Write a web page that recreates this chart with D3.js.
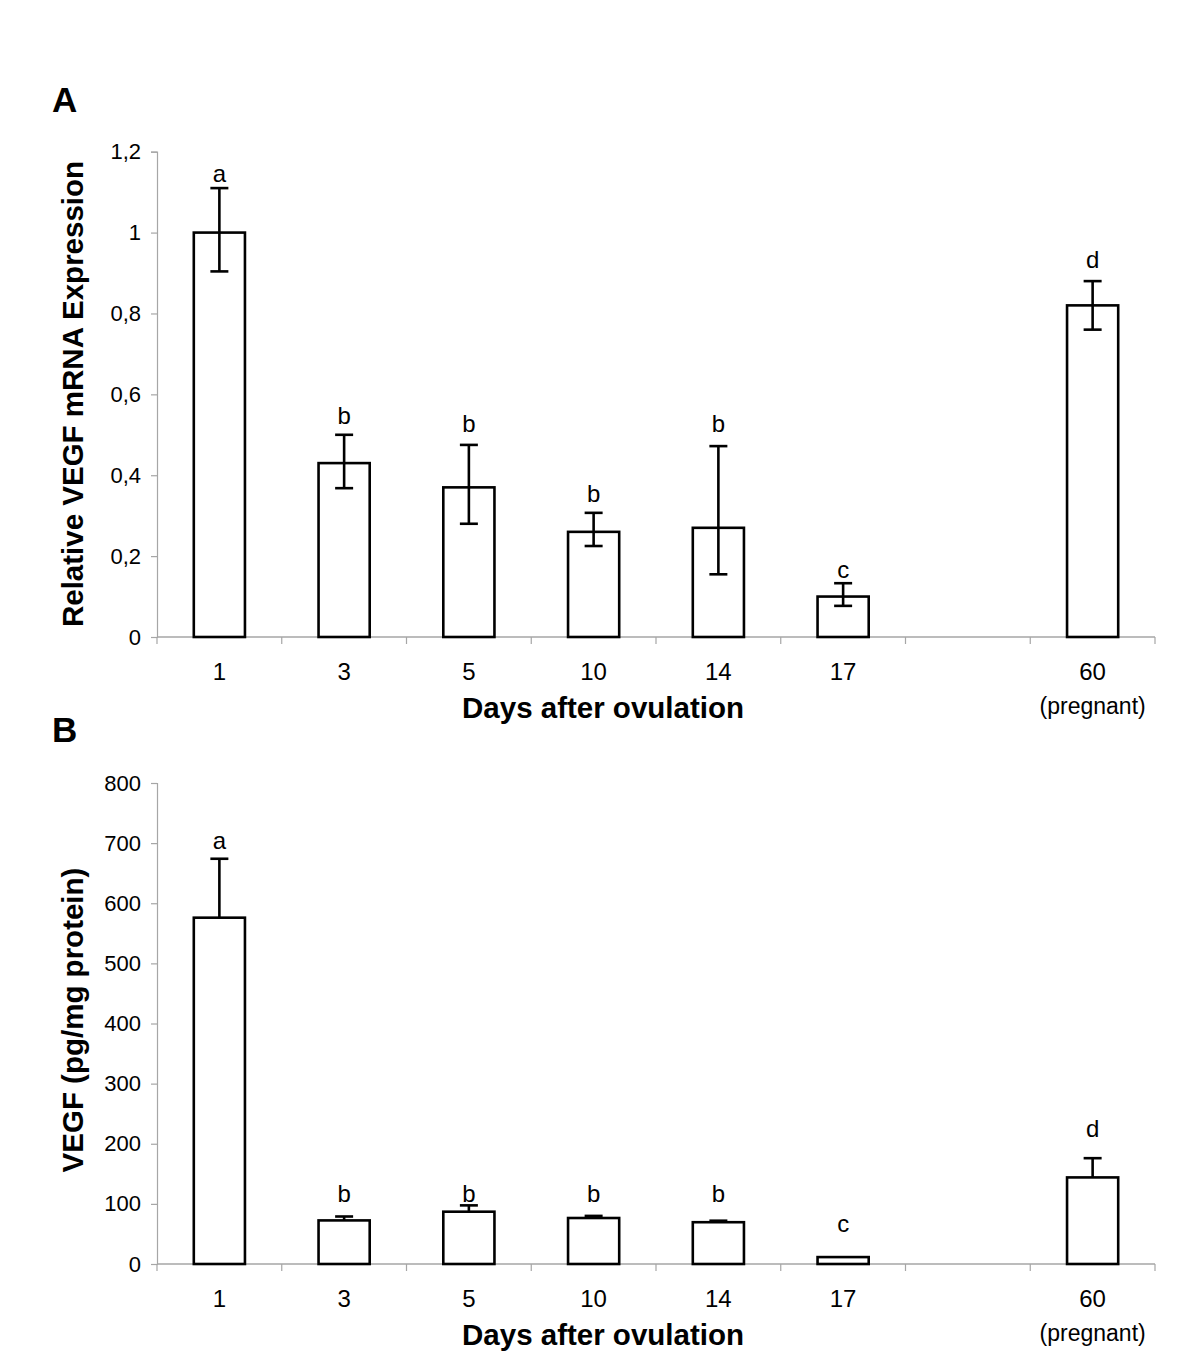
<!DOCTYPE html>
<html>
<head>
<meta charset="utf-8">
<script src="https://cdn.jsdelivr.net/npm/d3@7"></script>
<style>
  html, body { margin: 0; padding: 0; background: #fff; }
  svg { display: block; font-family: Arial, "Liberation Sans", sans-serif; }
</style>
</head>
<body>
<svg id="chart" width="1200" height="1360"></svg>
<script>
// ---------- data ----------
const categories = ["1", "3", "5", "10", "14", "17", "", "60"];
const subLabels  = ["", "", "", "", "", "", "", "(pregnant)"];

// Panel A: relative VEGF mRNA expression
const aMean  = [1.00, 0.43, 0.37, 0.26, 0.27, 0.10, null, 0.82];
const aHigh  = [1.11, 0.50, 0.475, 0.307, 0.472, 0.133, null, 0.88];
const aLow   = [0.904, 0.368, 0.28, 0.225, 0.155, 0.077, null, 0.76];
const aSig   = ["a", "b", "b", "b", "b", "c", "", "d"];
const aSigAt = [1.146, 0.548, 0.528, 0.356, 0.528, 0.168, null, 0.933];
const aTicks = [0, 0.2, 0.4, 0.6, 0.8, 1, 1.2];
const aTickLabels = ["0", "0,2", "0,4", "0,6", "0,8", "1", "1,2"];

// Panel B: VEGF protein (pg/mg protein)
const bMean  = [576, 72.5, 87, 76.5, 69.5, 11.5, null, 144];
const bHigh  = [674, 79, 97.5, 80, 72, 11.5, null, 176];
const bSig   = ["a", "b", "b", "b", "b", "c", "", "d"];
const bSigAt = [705, 118, 118, 118, 118, 68, null, 225];
const bTicks = [0, 100, 200, 300, 400, 500, 600, 700, 800];
const bTickLabels = ["0", "100", "200", "300", "400", "500", "600", "700", "800"];

// ---------- drawing ----------
const svg = d3.select("#chart");
const axisGrey = "#a6a6a6";
const ink = "#000";

function panel(opts) {
  const g = svg.append("g");
  const x = d3.scaleBand().domain(d3.range(categories.length)).range([157, 1155]).paddingInner(0).paddingOuter(0);
  const y = d3.scaleLinear().domain(opts.domain).range([opts.y0, opts.y1]);
  const barW = x.bandwidth() * 0.41;
  const cx = i => x(i) + x.bandwidth() / 2;

  // y axis
  const yAxis = d3.axisLeft(y).tickValues(opts.ticks).tickSize(6).tickFormat((d, i) => opts.tickLabels[i]);
  const ya = g.append("g").attr("transform", "translate(157,0)").call(yAxis);
  ya.select(".domain").attr("stroke", axisGrey).attr("stroke-width", 1.2);
  ya.selectAll(".tick line").attr("stroke", axisGrey).attr("stroke-width", 1.2);
  ya.selectAll(".tick text").attr("font-size", 22).attr("fill", ink).attr("x", -16)
    .attr("font-family", "Arial, 'Liberation Sans', sans-serif");

  // x axis (ticks at band boundaries)
  const bounds = d3.range(categories.length + 1).map(i => 157 + i * x.step());
  g.append("line").attr("x1", 157).attr("x2", 1155).attr("y1", opts.y0).attr("y2", opts.y0)
    .attr("stroke", axisGrey).attr("stroke-width", 1.4);
  g.selectAll(".xt").data(bounds).join("line")
    .attr("x1", d => d).attr("x2", d => d).attr("y1", opts.y0).attr("y2", opts.y0 + 7)
    .attr("stroke", axisGrey).attr("stroke-width", 1.2);

  // category labels
  g.selectAll(".cl").data(categories).join("text")
    .attr("x", (d, i) => cx(i)).attr("y", opts.y0 + 34).attr("text-anchor", "middle")
    .attr("dominant-baseline", "central").attr("font-size", 24).attr("fill", ink).text(d => d);
  g.selectAll(".sl").data(subLabels).join("text")
    .attr("x", (d, i) => cx(i)).attr("y", opts.y0 + 69).attr("text-anchor", "middle")
    .attr("dominant-baseline", "central").attr("font-size", 23).attr("fill", ink).text(d => d);

  // bars
  const idx = d3.range(categories.length).filter(i => opts.mean[i] != null);
  g.selectAll(".bar").data(idx).join("rect")
    .attr("x", i => cx(i) - barW / 2).attr("width", barW)
    .attr("y", i => y(opts.mean[i])).attr("height", i => y(0) - y(opts.mean[i]))
    .attr("fill", "#fff").attr("stroke", "#000").attr("stroke-width", 2.6);

  // error bars
  const capW = 18;
  idx.forEach(i => {
    const hi = opts.high[i];
    const lo = opts.low ? opts.low[i] : opts.mean[i];
    if (hi - lo < 1e-9) return;
    g.append("line").attr("x1", cx(i)).attr("x2", cx(i)).attr("y1", y(hi)).attr("y2", y(lo))
      .attr("stroke", "#000").attr("stroke-width", 2.6);
    g.append("line").attr("x1", cx(i) - capW / 2).attr("x2", cx(i) + capW / 2).attr("y1", y(hi)).attr("y2", y(hi))
      .attr("stroke", "#000").attr("stroke-width", 2.6);
    if (opts.low) {
      g.append("line").attr("x1", cx(i) - capW / 2).attr("x2", cx(i) + capW / 2).attr("y1", y(lo)).attr("y2", y(lo))
        .attr("stroke", "#000").attr("stroke-width", 2.6);
    }
  });

  // significance letters
  g.selectAll(".sig").data(idx).join("text")
    .attr("x", i => cx(i)).attr("y", i => y(opts.sigAt[i]))
    .attr("text-anchor", "middle").attr("dominant-baseline", "central")
    .attr("font-size", 24).attr("fill", ink).text(i => opts.sig[i]);

  // axis titles
  g.append("text").attr("x", 603).attr("y", opts.y0 + 70).attr("text-anchor", "middle")
    .attr("dominant-baseline", "central").attr("font-size", 29.5).attr("font-weight", "bold")
    .attr("fill", ink).text("Days after ovulation");
  g.append("text").attr("transform", `translate(72,${opts.titleCy}) rotate(-90)`)
    .attr("text-anchor", "middle").attr("dominant-baseline", "central")
    .attr("font-size", 29.5).attr("font-weight", "bold").attr("fill", ink).text(opts.yTitle);

  // panel letter
  svg.append("text").attr("x", 52).attr("y", opts.letterY).attr("font-size", 35)
    .attr("font-weight", "bold").attr("fill", ink).text(opts.letter);
}

panel({
  domain: [0, 1.2], y0: 637, y1: 151.7,
  ticks: aTicks, tickLabels: aTickLabels,
  mean: aMean, high: aHigh, low: aLow, sig: aSig, sigAt: aSigAt,
  yTitle: "Relative VEGF mRNA Expression", titleCy: 394,
  letter: "A", letterY: 112
});

panel({
  domain: [0, 800], y0: 1264, y1: 783,
  ticks: bTicks, tickLabels: bTickLabels,
  mean: bMean, high: bHigh, low: null, sig: bSig, sigAt: bSigAt,
  yTitle: "VEGF (pg/mg protein)", titleCy: 1020,
  letter: "B", letterY: 742
});
</script>
</body>
</html>
